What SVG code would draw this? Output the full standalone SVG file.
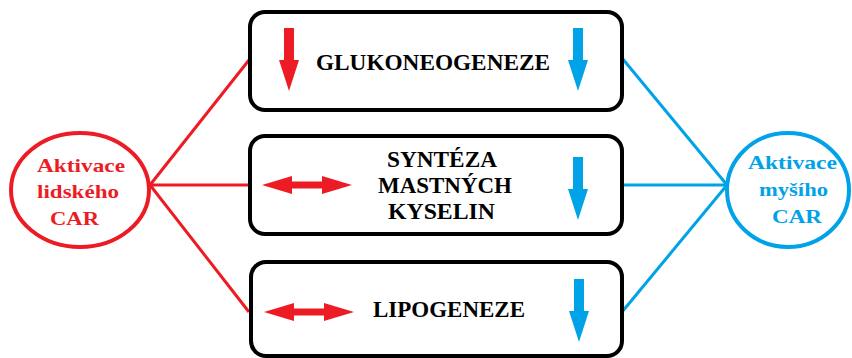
<svg xmlns="http://www.w3.org/2000/svg" width="852" height="358" viewBox="0 0 852 358">
<style>
.box{fill:#fff;stroke:#000;stroke-width:4}
.t{font-family:"Liberation Serif","Times New Roman",serif;font-weight:bold;text-anchor:middle}
.bt{font-size:22.5px;fill:#000}
.ct{font-size:19px}
.red{fill:#ED1C24}
.blue{fill:#00A2E8}
.rl{stroke:#ED1C24;stroke-width:3;fill:none}
.bl{stroke:#00A2E8;stroke-width:3;fill:none}
</style>
<defs>
<path id="down" d="M-5,0 H5 V32 H10 L0,63 L-10,32 H-5 Z"/>
<path id="dbl" d="M0,0 L30,-9 V-3.5 H60 V-9 L90,0 L60,9 V3.5 H30 V9 Z"/>
</defs>
<rect width="852" height="358" fill="#fff"/>
<g id="connectors">
<path class="rl" d="M150,185 L249,60 M150,185 H249 M150,185 L249,312"/>
<path class="bl" d="M727,185 L622,58 M727,185 H622 M727,185 L622,312"/>
</g>
<g id="glukoneogeneze">
<rect class="box" x="250" y="12" width="372" height="98" rx="15"/>
<use href="#down" x="289" y="28" class="red"/>
<text class="t bt" x="433" y="70" textLength="234" lengthAdjust="spacingAndGlyphs">GLUKONEOGENEZE</text>
<use href="#down" x="578" y="28" class="blue"/>
</g>
<g id="syntheza">
<rect class="box" x="250" y="136" width="372" height="98" rx="15"/>
<use href="#dbl" x="262" y="185" class="red"/>
<text class="t bt" x="442" y="167" textLength="110" lengthAdjust="spacingAndGlyphs">SYNTÉZA</text>
<text class="t bt" x="445" y="193" textLength="134" lengthAdjust="spacingAndGlyphs">MASTNÝCH</text>
<text class="t bt" x="441.5" y="219" textLength="107" lengthAdjust="spacingAndGlyphs">KYSELIN</text>
<use href="#down" x="578" y="157" class="blue"/>
</g>
<g id="lipogeneze">
<rect class="box" x="251" y="262" width="371" height="94" rx="15"/>
<use href="#dbl" x="264" y="312" class="red"/>
<text class="t bt" x="449" y="317" textLength="152" lengthAdjust="spacingAndGlyphs">LIPOGENEZE</text>
<use href="#down" x="579" y="279" class="blue"/>
</g>
<g id="lidsky-car">
<ellipse cx="80" cy="190" rx="69" ry="57" fill="#fff" stroke="#ED1C24" stroke-width="4"/>
<text class="t ct red" x="81" y="172" textLength="88" lengthAdjust="spacingAndGlyphs">Aktivace</text>
<text class="t ct red" x="78" y="198" textLength="82" lengthAdjust="spacingAndGlyphs">lidského</text>
<text class="t ct red" x="74.5" y="225" textLength="49" lengthAdjust="spacingAndGlyphs">CAR</text>
</g>
<g id="mysi-car">
<ellipse cx="788" cy="190" rx="61" ry="57" fill="#fff" stroke="#00A2E8" stroke-width="4"/>
<text class="t ct blue" x="792.5" y="169" textLength="89" lengthAdjust="spacingAndGlyphs">Aktivace</text>
<text class="t ct blue" x="793.5" y="196" textLength="69" lengthAdjust="spacingAndGlyphs">myšího</text>
<text class="t ct blue" x="797" y="223" textLength="50" lengthAdjust="spacingAndGlyphs">CAR</text>
</g>
</svg>
